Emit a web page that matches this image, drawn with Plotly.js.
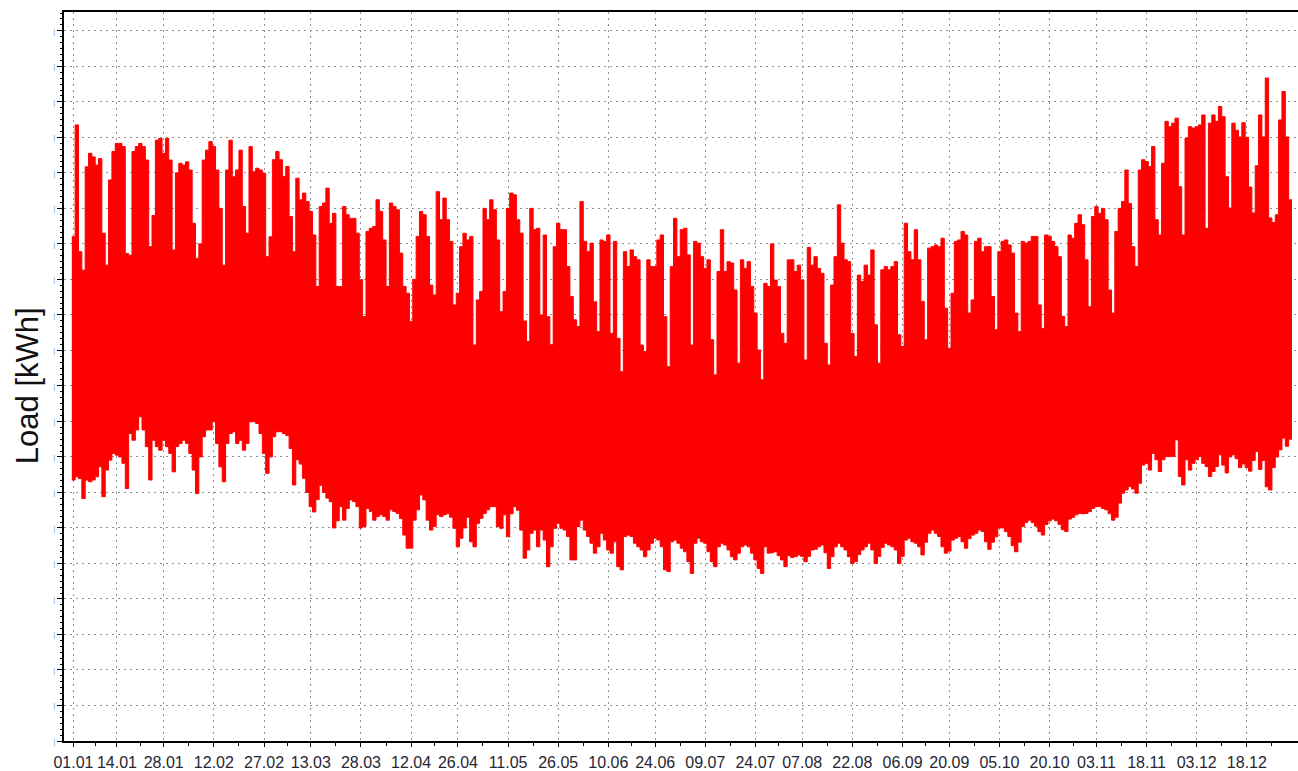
<!DOCTYPE html>
<html>
<head>
<meta charset="utf-8">
<script src="https://cdn.plot.ly/plotly-3.0.1.min.js"></script>
<style>
html,body{margin:0;padding:0;background:#fff;}
#chart{width:1298px;height:771px;}
</style>
</head>
<body>
<div id="chart"></div>
<script>
// Year of hourly load, summarised per day (daily maximum and daily minimum, kWh)
const startYear = 2015;

const dayMax = [
1420,1735,1378,1326,1617,1655,1645,1622,1640,1430,
1340,1580,1660,1683,1683,1674,1373,1368,1660,1674,
1683,1674,1636,1392,1480,1692,1697,1655,1697,1636,
1383,1600,1627,1622,1631,1608,1458,1359,1400,1636,
1664,1688,1674,1608,1500,1340,1608,1692,1589,1608,
1664,1505,1430,1674,1603,1613,1608,1599,1364,1420,
1637,1660,1637,1590,1618,1477,1378,1585,1524,1543,
1519,1491,1425,1280,1505,1515,1557,1458,1486,1280,
1280,1505,1482,1472,1472,1430,1299,1195,1435,1444,
1449,1524,1491,1411,1280,1515,1505,1496,1374,1280,
1261,1181,1300,1421,1491,1482,1421,1284,1256,1547,
1468,1529,1468,1407,1228,1261,1392,1430,1411,1421,
1115,1242,1266,1500,1468,1524,1496,1411,1209,1266,
1500,1543,1538,1468,1430,1183,1125,1500,1440,1444,
1200,1425,1195,1116,1392,1458,1440,1440,1336,1252,
1186,1167,1519,1407,1378,1402,1237,1153,1411,1407,
1425,1148,1407,1134,1040,1378,1336,1383,1364,1355,
1115,1097,1355,1336,1336,1411,1425,1195,1054,1336,
1472,1364,1440,1444,1369,1115,1407,1402,1364,1331,
1355,1130,1031,1322,1440,1322,1350,1346,1270,1064,
1355,1331,1350,1280,1205,1101,1017,1289,1280,1400,
1298,1280,1148,1120,1355,1355,1322,1340,1298,1073,
1390,1340,1364,1331,1317,1120,1059,1284,1364,1510,
1402,1355,1350,1148,1083,1312,1294,1340,1312,1383,
1172,1064,1327,1336,1327,1336,1350,1144,1111,1458,
1378,1355,1440,1355,1238,1130,1388,1392,1397,1392,
1416,1219,1106,1261,1407,1411,1435,1425,1205,1242,
1407,1416,1378,1392,1392,1252,1158,1378,1407,1411,
1397,1374,1205,1153,1407,1402,1407,1421,1421,1228,
1162,1425,1421,1407,1392,1364,1196,1167,1425,1416,
1458,1482,1454,1355,1223,1477,1505,1486,1500,1468,
1270,1205,1435,1500,1519,1608,1514,1392,1336,1608,
1637,1632,1618,1674,1468,1425,1627,1745,1730,1740,
1754,1561,1425,1698,1730,1726,1730,1735,1763,1444,
1740,1763,1745,1787,1758,1589,1501,1740,1720,1701,
1741,1700,1560,1487,1620,1763,1701,1867,1473,1460,
1482,1749,1829,1701,1524
];

const dayMin = [
735,744,739,683,735,730,735,744,772,688,
763,791,810,805,800,782,711,866,847,876,
913,876,829,735,847,829,819,847,829,810,
758,829,838,847,838,810,763,697,800,857,
876,876,899,838,772,730,838,866,871,838,
847,819,838,899,899,894,866,810,754,800,
857,871,871,866,860,824,721,792,780,740,
700,660,645,680,720,700,684,674,600,620,
660,622,655,679,674,660,600,604,655,646,
622,632,637,632,622,651,646,641,627,580,
543,543,622,651,693,679,622,594,604,637,
632,637,640,630,599,547,571,600,630,561,
547,613,627,641,651,660,660,604,599,637,
575,640,660,650,594,515,538,585,594,547,
594,566,491,547,599,613,599,594,576,510,
510,604,622,594,576,557,529,547,585,566,
538,529,561,491,482,576,580,576,557,547,
538,519,538,557,571,566,547,482,477,561,
566,557,543,533,505,472,557,571,561,557,
533,505,491,547,557,552,538,519,510,529,
547,552,547,529,510,486,472,547,529,530,
533,522,510,491,522,517,519,524,520,505,
520,538,540,547,552,530,486,519,547,557,
547,538,519,500,505,525,538,547,557,538,
500,520,545,557,552,547,538,500,520,566,
571,561,557,547,524,560,585,594,585,576,
547,529,535,566,571,576,561,543,570,580,
585,594,590,561,540,560,575,600,600,590,
576,550,533,560,604,615,622,615,605,590,
580,610,620,625,620,610,595,590,625,630,
637,641,640,641,646,655,660,660,655,651,
640,622,630,670,698,707,717,710,698,726,
777,782,763,810,792,759,792,801,801,801,
848,745,721,792,763,782,792,801,782,773,
745,759,773,806,777,755,800,806,795,770,
780,770,760,790,815,765,790,716,707,770,
800,820,853,830,850
];

const tickLabels = ['01.01','14.01','28.01','12.02','27.02','13.03','28.03','12.04','26.04',
  '11.05','26.05','10.06','24.06','09.07','24.07','07.08','22.08','06.09','20.09',
  '05.10','20.10','03.11','18.11','03.12','18.12'];

const yTickValues = [0,100,200,300,400,500,600,700,800,900,1000,1100,1200,1300,1400,1500,1600,1700,1800,1900,2000];

// ---- build traces ----
const DAY = 86400000;
const t0 = Date.UTC(startYear, 0, 1);
function fmt(ms){ return new Date(ms).toISOString().slice(0,19).replace('T',' '); }

const xs = [], yMax = [], yMin = [];
for (let i = 0; i < dayMax.length; i++) {
  xs.push(fmt(t0 + i * DAY));
  yMax.push(dayMax[i]);
  yMin.push(dayMin[i]);
}
xs.push(fmt(t0 + dayMax.length * DAY));
yMax.push(dayMax[dayMax.length - 1]);
yMin.push(dayMin[dayMin.length - 1]);

const tickMs = tickLabels.map(s => {
  const [dd, mm] = s.split('.').map(Number);
  return Date.UTC(startYear, mm - 1, dd, 12);
});
const tickVals = tickMs.map(fmt);
const minorVals = [];
for (let i = 0; i < tickMs.length - 1; i++) minorVals.push(fmt((tickMs[i] + tickMs[i+1]) / 2));
minorVals.push(fmt(tickMs[tickMs.length-1] + (tickMs[tickMs.length-1] - tickMs[tickMs.length-2]) / 2));

const red = '#ff0000';
const traces = [
  { x: xs, y: yMin, type: 'scatter', mode: 'lines',
    line: { color: red, width: 1, shape: 'hv' }, showlegend: false, hoverinfo: 'skip' },
  { x: xs, y: yMax, type: 'scatter', mode: 'lines', fill: 'tonexty', fillcolor: red,
    line: { color: red, width: 1, shape: 'hv' }, showlegend: false, name: 'Load' }
];

const gridDash = '2px,4px';
const gridColor = '#8f8f8f';

const layout = {
  width: 1298, height: 771,
  margin: { l: 64, r: 0, t: 12, b: 30, pad: 0 },
  paper_bgcolor: '#ffffff', plot_bgcolor: '#ffffff',
  showlegend: false,
  xaxis: {
    type: 'date',
    range: ['2014-12-29 16:00', '2016-01-02 19:12'],
    tickmode: 'array', tickvals: tickVals, ticktext: tickLabels,
    ticks: 'outside', ticklen: 4, tickwidth: 1, tickcolor: '#000',
    ticklabelstandoff: 2,
    showline: true, linecolor: '#000', linewidth: 2, mirror: true,
    showgrid: true, gridcolor: gridColor, gridwidth: 1, griddash: gridDash,
    zeroline: false,
    tickfont: { family: 'Arial, "Liberation Sans", sans-serif', size: 16, color: '#262633' },
    minor: { tickmode: 'array', tickvals: minorVals, ticks: 'outside', ticklen: 3, tickcolor: '#000', showgrid: false }
  },
  yaxis: {
    range: [0, 2053],
    tickmode: 'array', tickvals: yTickValues, ticktext: yTickValues.map(() => '|'),
    ticks: 'outside', ticklen: 5, tickwidth: 1, tickcolor: '#000',
    showline: true, linecolor: '#000', linewidth: 2, mirror: false,
    showgrid: true, gridcolor: gridColor, gridwidth: 1, griddash: gridDash,
    zeroline: false,
    tickfont: { family: 'Arial, "Liberation Sans", sans-serif', size: 8, color: '#6aa6dc' },
    minor: { dtick: 100/6, tick0: 0, ticks: 'outside', ticklen: 2, tickcolor: '#000', showgrid: false }
  },
  annotations: [{
    text: 'Load [kWh]', textangle: -90,
    xref: 'paper', yref: 'paper', x: -0.029, y: 0.487,
    xanchor: 'center', yanchor: 'middle', showarrow: false,
    font: { family: 'Arial, "Liberation Sans", sans-serif', size: 31, color: '#111111' }
  }]
};

Plotly.newPlot('chart', traces, layout, { staticPlot: true, displayModeBar: false });
</script>
</body>
</html>
